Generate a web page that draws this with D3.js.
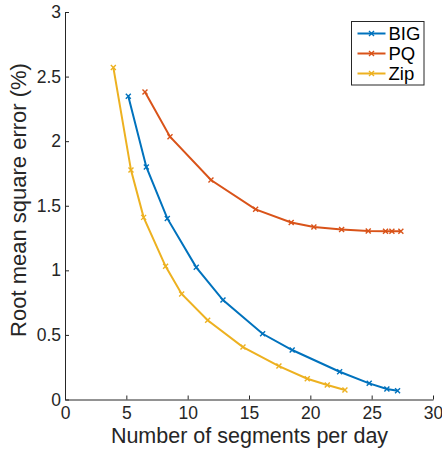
<!DOCTYPE html>
<html>
<head>
<meta charset="utf-8">
<title>RMSE vs segments</title>
<script src="https://cdn.jsdelivr.net/npm/d3@7"></script>
<style>
    body { margin: 0; background: #fff; }
    text { font-family: "Liberation Sans", Arial, sans-serif; fill: #262626; }
    .axis path, .axis line { stroke: #262626; }
    .axis text { font-size: 17.5px; fill: #262626; }
</style>
</head>
<body>
<script>
    var seriesNames = ["BIG", "PQ", "Zip"];
    var colors = ["#0072BD", "#D95319", "#EDB120"];

    var bigX = [5.16, 6.63, 8.34, 10.70, 12.88, 16.11, 18.52, 22.39, 24.80, 26.24, 27.11];
    var bigY = [2.347, 1.80, 1.402, 1.023, 0.770, 0.509, 0.383, 0.215, 0.125, 0.081, 0.068];
    var pqX = [6.52, 8.56, 11.9, 15.54, 18.44, 20.29, 22.55, 24.72, 26.13, 26.65, 27.38];
    var pqY = [2.38, 2.034, 1.699, 1.472, 1.371, 1.335, 1.317, 1.304, 1.302, 1.302, 1.302];
    var zipX = [3.94, 5.38, 6.41, 8.20, 9.51, 11.63, 14.51, 17.44, 19.75, 21.38, 22.82];
    var zipY = [2.571, 1.776, 1.41, 1.031, 0.817, 0.613, 0.406, 0.259, 0.161, 0.112, 0.074];

    var xTicks = [0, 5, 10, 15, 20, 25, 30];
    var yTicks = [0, 0.5, 1, 1.5, 2, 2.5, 3];

    var series = [
        {name: seriesNames[0], xs: bigX, ys: bigY},
        {name: seriesNames[1], xs: pqX, ys: pqY},
        {name: seriesNames[2], xs: zipX, ys: zipY}
    ];

    var width = 442, height = 450;
    var margin = {left: 65, right: 9, top: 12, bottom: 50.5};

    var svg = d3.select("body").append("svg")
        .attr("width", width)
        .attr("height", height);

    var x = d3.scaleLinear().domain([0, 30]).range([margin.left, width - margin.right]);
    var y = d3.scaleLinear().domain([0, 3]).range([height - margin.bottom, margin.top]);

    var fmt = function (d) { return String(d); };

    // axes, MATLAB style ticks pointing inward
    svg.append("g")
        .attr("class", "axis")
        .attr("transform", "translate(0," + y(0) + ")")
        .call(d3.axisBottom(x).tickValues(xTicks).tickFormat(fmt).tickSizeInner(-4).tickSizeOuter(0))
        .call(function (g) { g.selectAll("text").attr("y", 19).attr("dy", 0); });

    svg.append("g")
        .attr("class", "axis")
        .attr("transform", "translate(" + x(0) + ",0)")
        .call(d3.axisLeft(y).tickValues(yTicks).tickFormat(fmt).tickSizeInner(-4).tickSizeOuter(0).tickPadding(4));

    svg.selectAll(".axis .domain").attr("stroke-width", 1);

    svg.append("text")
        .attr("x", (x(0) + x(30)) / 2 + 0.5)
        .attr("y", 443)
        .attr("text-anchor", "middle")
        .style("font-size", "21.5px")
        .text("Number of segments per day");

    svg.append("text")
        .attr("transform", "translate(26,200) rotate(-90)")
        .attr("text-anchor", "middle")
        .style("font-size", "22px")
        .text("Root mean square error (%)");

    var line = d3.line()
        .x(function (d) { return x(d[0]); })
        .y(function (d) { return y(d[1]); });

    function cross(g, cx, cy, color) {
        var s = 2.5;
        g.append("path")
            .attr("d", "M" + (cx - s) + "," + (cy - s) + "L" + (cx + s) + "," + (cy + s) +
                "M" + (cx - s) + "," + (cy + s) + "L" + (cx + s) + "," + (cy - s))
            .attr("stroke", color)
            .attr("stroke-width", 1.4)
            .attr("fill", "none");
    }

    series.forEach(function (s, i) {
        var pts = d3.zip(s.xs, s.ys);
        var g = svg.append("g");
        g.append("path")
            .datum(pts)
            .attr("d", line)
            .attr("fill", "none")
            .attr("stroke", colors[i])
            .attr("stroke-width", 2);
        pts.forEach(function (p) { cross(g, x(p[0]), y(p[1]), colors[i]); });
    });

    // legend
    var lg = svg.append("g").attr("transform", "translate(351.5,21.5)");
    lg.append("rect")
        .attr("width", 72.5)
        .attr("height", 63.5)
        .attr("fill", "#fff")
        .attr("stroke", "#262626")
        .attr("stroke-width", 1);

    series.forEach(function (s, i) {
        var ly = 12 + i * 20;
        lg.append("line")
            .attr("x1", 6).attr("x2", 34)
            .attr("y1", ly).attr("y2", ly)
            .attr("stroke", colors[i])
            .attr("stroke-width", 2);
        cross(lg, 20, ly, colors[i]);
        lg.append("text")
            .attr("x", 37)
            .attr("y", ly)
            .attr("dy", "0.36em")
            .style("font-size", "18.5px")
            .style("fill", "#000")
            .text(s.name);
    });
</script>
</body>
</html>
